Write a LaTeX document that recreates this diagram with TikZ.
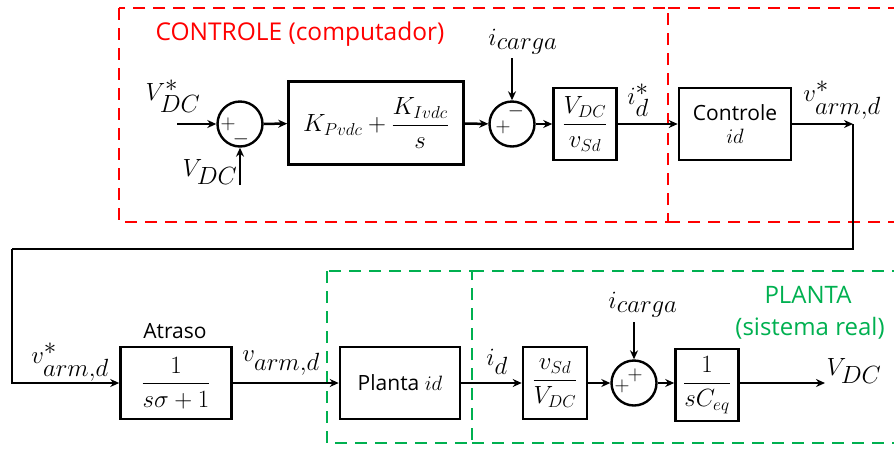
\documentclass[tikz,border=0pt]{standalone}
\usepackage{amsmath}
\usepackage{fontspec}
\setsansfont{Open Sans}
\usetikzlibrary{arrows.meta}
\definecolor{ctrlred}{RGB}{255,0,0}
\definecolor{plgreen}{RGB}{0,176,80}
\begin{document}
\begin{tikzpicture}[x=1pt,y=-1pt,
  blk/.style={draw, line width=2.6pt, inner sep=0pt, align=center},
  sumn/.style={draw, circle, line width=2.4pt, minimum size=45pt, inner sep=0pt},
  arr/.style={line width=2.5pt, -{Stealth[length=9pt,width=8pt]}},
  wire/.style={line width=2.5pt},
  lbl/.style={font=\fontsize{34}{40}\selectfont, inner sep=0pt},
  txt/.style={font=\sffamily\fontsize{21}{25}\selectfont, inner sep=0pt},
  sgn/.style={font=\fontsize{22}{24}\selectfont, inner sep=0pt},
  boxmath/.style={font=\fontsize{24}{28}\selectfont},
  grouptxt/.style={font=\sffamily\fontsize{24.5}{28}\selectfont, inner sep=0pt},
  redbox/.style={draw=ctrlred, line width=2.6pt, dash pattern=on 12pt off 8pt},
  grnbox/.style={draw=plgreen, line width=2.6pt, dash pattern=on 12pt off 8pt}
]
\useasboundingbox (0,0) rectangle (894,448);
\clip (0,0) rectangle (894,448);

% dashed regions
\draw[redbox] (119,8) rectangle (668,222);
\draw[redbox] (668,8) -- (900,8);
\draw[redbox] (668,222) -- (900,222);
\draw[grnbox] (327,271) rectangle (472,443);
\draw[grnbox] (472,271) -- (900,271);
\draw[grnbox] (472,443) -- (900,443);

\node[grouptxt, text=ctrlred] (tctrl) at (300,34) {CONTROLE (computador)};
\node[grouptxt, text=plgreen, font=\sffamily\fontsize{24}{28}\selectfont] (tpl1) at (808,295) {PLANTA};
\node[grouptxt, text=plgreen, font=\sffamily\fontsize{24}{28}\selectfont] (tpl2) at (810,328) {(sistema real)};

% top row
\node[sumn] (s1) at (240,124) {};
\node[sgn] (s1p) at (228,124) {$+$};
\node[sgn] (s1m) at (241,139) {$-$};
\node[blk, minimum width=175pt, minimum height=83pt, boxmath] (pi) at (376,123)
  {$K_{Pvdc}+\dfrac{K_{Ivdc}}{s}$};
\node[sumn] (s2) at (512,124) {};
\node[sgn] (s2m) at (516,111) {$-$};
\node[sgn] (s2p) at (503,127) {$+$};
\node[blk, minimum width=63pt, minimum height=72pt, boxmath] (g1) at (585,124)
  {$\dfrac{V_{DC}}{v_{Sd}}$};
\node[blk, minimum width=112pt, minimum height=72pt, txt, inner sep=0pt] (ctrl) at (735,124)
  {Controle\\[-2pt]$id$};

\node[lbl] (lvref) at (173,96) {$V_{DC}^{*}$};
\node[lbl] (lvdc) at (210,172) {$V_{DC}$};
\node[lbl] (lic1) at (523,42) {$i_{carga}$};
\node[lbl] (lidref) at (638,100) {$i_{d}^{*}$};
\node[lbl] (lvarm1) at (842,100) {$v_{arm,d}^{*}$};

\coordinate (vin) at (177,124);
\coordinate (vdcin) at (240,185);
\coordinate (icin1) at (512,58);
\coordinate (c1) at (853,124);
\coordinate (c2) at (12,249);

\draw[arr] (vin) -- (s1);
\draw[arr] (vdcin) -- (s1.south);
\draw[arr] (s1) -- (pi);
\draw[arr] (pi) -- (s2);
\draw[arr] (icin1) -- (s2.north);
\draw[arr] (s2) -- (g1);
\draw[arr] (g1) -- (ctrl);
\draw[arr] (ctrl) -- (c1);

% bottom row
\node[blk, minimum width=111pt, minimum height=72pt, boxmath] (atr) at (176,383)
  {$\dfrac{1}{s\sigma+1}$};
\node[txt] (tatr) at (175,331) {Atraso};
\node[blk, minimum width=120pt, minimum height=72pt, txt] (pla) at (400,383) {Planta $id$};
\node[blk, minimum width=64pt, minimum height=72pt, boxmath] (g2) at (555,383)
  {$\dfrac{v_{Sd}}{V_{DC}}$};
\node[sumn] (s3) at (634,383) {};
\node[sgn] (s3a) at (622,386) {$+$};
\node[sgn] (s3b) at (635,375) {$+$};
\node[blk, minimum width=63pt, minimum height=72pt, boxmath] (g3) at (707,385)
  {$\dfrac{1}{sC_{eq}}$};

\node[lbl] (lvarm2) at (70,362) {$v_{arm,d}^{*}$};
\node[lbl] (lvarm3) at (281,363) {$v_{arm,d}$};
\node[lbl] (lid) at (497,362) {$i_{d}$};
\node[lbl] (lic2) at (643,305) {$i_{carga}$};
\node[lbl] (lvout) at (854,371) {$V_{DC}$};

\coordinate (icin2) at (634,322);
\coordinate (vout) at (825,383);

\draw[wire] (c1) |- (c2);
\draw[arr] (c2) |- (atr.west);
\draw[arr] (atr) -- (pla);
\draw[arr] (pla) -- (g2);
\draw[arr] (g2) -- (s3);
\draw[arr] (icin2) -- (s3.north);
\draw[arr] (s3) -- (s3 -| g3.west);
\draw[arr] (s3 -| g3.east) -- (vout);
\end{tikzpicture}
\end{document}
